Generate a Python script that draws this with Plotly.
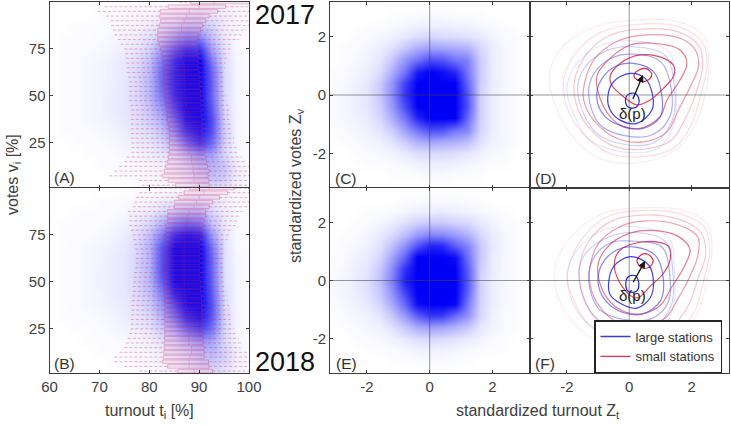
import plotly.graph_objects as go

W, H = 731, 425

turnout_grid = [60, 62.5, 65, 67.5, 70, 72.5, 75, 77.5, 80, 82.5, 85, 87.5, 90, 92.5, 95, 97.5, 100]
votes_grid = [100, 93.75, 87.5, 81.25, 75, 68.75, 62.5, 56.25, 50, 43.75, 37.5, 31.25, 25, 18.75, 12.5, 6.25, 0]
z_grid = [-3.2, -2.8, -2.4, -2, -1.6, -1.2, -.8, -.4, 0, .4, .8, 1.2, 1.6, 2, 2.4, 2.8, 3.2]
z_rows = [3.2, 2.8, 2.4, 2, 1.6, 1.2, .8, .4, 0, -.4, -.8, -1.2, -1.6, -2, -2.4, -2.8, -3.2]

heat_A = [
 [0,0,0,0,0,0,0,.01,.01,.02,.03,.04,.05,.05,.05,.03,.02],
 [0,0,0,0,.01,.01,.02,.03,.04,.06,.09,.12,.13,.1,.06,.03,.02],
 [0,0,.01,.01,.01,.02,.03,.05,.07,.12,.18,.25,.25,.16,.07,.03,.01],
 [0,.01,.01,.01,.02,.03,.05,.07,.12,.22,.38,.5,.48,.25,.08,.03,.01],
 [0,.01,.01,.02,.03,.04,.07,.1,.18,.4,.65,.82,.8,.38,.11,.03,.01],
 [0,.01,.02,.03,.04,.06,.09,.13,.25,.52,.85,1,1,.52,.13,.04,.01],
 [0,.01,.02,.03,.04,.06,.09,.14,.28,.58,.88,1,1,.6,.14,.04,.01],
 [0,.01,.02,.03,.04,.06,.1,.15,.28,.58,.88,1,1,.62,.14,.04,.01],
 [0,.01,.02,.03,.04,.07,.1,.15,.28,.52,.85,1,1,.6,.14,.04,.01],
 [0,.01,.02,.03,.04,.07,.1,.14,.24,.42,.75,1,1,.65,.15,.04,.01],
 [0,.01,.02,.03,.04,.06,.09,.12,.2,.32,.62,.95,1,.7,.17,.04,.01],
 [0,.01,.01,.02,.03,.04,.07,.1,.14,.24,.48,.82,.95,.68,.18,.04,.01],
 [0,0,.01,.01,.02,.03,.05,.07,.1,.16,.3,.6,.8,.58,.17,.04,.01],
 [0,0,0,.01,.01,.02,.03,.04,.06,.09,.15,.28,.42,.36,.15,.04,.01],
 [0,0,0,0,.01,.01,.02,.03,.04,.06,.1,.17,.27,.3,.22,.07,.01],
 [0,0,0,0,0,.01,.01,.02,.03,.04,.06,.12,.2,.24,.19,.07,.02],
 [0,0,0,0,0,0,0,.01,.01,.02,.03,.06,.09,.11,.09,.04,.02],
]
heat_B = [
 [0,0,0,0,0,0,0,.01,.01,.02,.03,.04,.05,.05,.04,.03,.02],
 [0,0,0,0,.01,.01,.02,.03,.04,.06,.09,.12,.14,.11,.06,.03,.02],
 [0,0,.01,.01,.01,.02,.03,.05,.08,.14,.22,.28,.28,.16,.07,.03,.01],
 [0,.01,.01,.01,.02,.03,.05,.09,.15,.3,.5,.6,.55,.25,.08,.03,.01],
 [0,.01,.01,.02,.03,.04,.07,.13,.25,.5,.85,.95,.9,.4,.1,.03,.01],
 [0,.01,.02,.03,.04,.06,.09,.15,.3,.65,1,1,1,.55,.12,.03,.01],
 [0,.01,.02,.03,.04,.07,.1,.16,.3,.68,1,1,1,.6,.12,.04,.01],
 [0,.01,.02,.03,.05,.07,.1,.16,.3,.68,1,1,1,.6,.13,.04,.01],
 [0,.01,.02,.03,.05,.07,.1,.16,.29,.62,1,1,1,.62,.13,.04,.01],
 [0,.01,.02,.03,.04,.07,.09,.14,.25,.5,.88,1,1,.65,.14,.04,.01],
 [0,.01,.02,.03,.04,.06,.08,.12,.2,.4,.72,.98,1,.68,.15,.04,.01],
 [0,.01,.01,.02,.03,.04,.07,.1,.15,.3,.56,.85,.95,.65,.16,.04,.01],
 [0,0,.01,.01,.02,.03,.05,.07,.1,.2,.36,.6,.75,.55,.16,.04,.01],
 [0,0,0,.01,.01,.02,.03,.04,.06,.11,.18,.3,.42,.36,.15,.04,.01],
 [0,0,0,0,.01,.01,.02,.03,.04,.07,.12,.18,.26,.28,.18,.06,.01],
 [0,0,0,0,0,.01,.01,.02,.03,.05,.07,.12,.19,.21,.15,.06,.02],
 [0,0,0,0,0,0,0,.01,.01,.02,.03,.06,.09,.09,.07,.03,.02],
]
heat_C = [
 [0,0,0,0,0,0,0,0,0,0,0,0,0,0,0,0,0],
 [0,0,0,0,0,.01,.01,.01,.02,.02,.01,.01,.01,0,0,0,0],
 [0,0,0,.01,.01,.02,.04,.05,.06,.06,.05,.05,.03,.02,.01,0,0],
 [0,0,.01,.02,.04,.06,.1,.14,.17,.15,.14,.12,.09,.05,.02,.01,0],
 [0,.01,.02,.04,.07,.12,.22,.32,.38,.36,.33,.3,.16,.08,.03,.01,0],
 [0,.01,.03,.05,.1,.22,.42,.55,.7,.68,.55,.5,.2,.08,.03,.01,0],
 [.01,.02,.04,.07,.14,.32,.55,.9,1,.95,.85,.55,.2,.08,.03,.01,0],
 [.01,.03,.05,.09,.2,.42,.75,1,1,1,1,.62,.2,.08,.03,.01,0],
 [.01,.03,.06,.1,.22,.45,.8,1,1,1,1,.68,.18,.07,.03,.01,0],
 [.02,.03,.06,.1,.2,.4,.7,1,1,1,1,.7,.18,.07,.03,.01,0],
 [.01,.03,.05,.08,.16,.32,.55,.85,1,1,1,.6,.18,.07,.03,.01,0],
 [0,.02,.04,.06,.11,.2,.38,.55,.7,.68,.55,.48,.17,.07,.03,.01,0],
 [0,.01,.02,.04,.06,.11,.2,.3,.35,.33,.3,.26,.12,.06,.03,.01,0],
 [0,0,.01,.02,.03,.05,.09,.13,.15,.15,.13,.1,.06,.03,.02,0,0],
 [0,0,0,.01,.01,.02,.03,.05,.06,.06,.05,.04,.02,.01,.01,0,0],
 [0,0,0,0,0,.01,.01,.01,.02,.02,.01,.01,.01,0,0,0,0],
 [0,0,0,0,0,0,0,0,0,0,0,0,0,0,0,0,0],
]
heat_E = [
 [0,0,0,0,0,0,0,0,0,0,0,0,0,0,0,0,0],
 [0,0,0,0,0,0,.01,.01,.02,.02,.02,.01,.01,0,0,0,0],
 [0,0,0,.01,.01,.02,.04,.06,.07,.08,.06,.05,.03,.02,.01,0,0],
 [0,0,.01,.02,.04,.07,.12,.17,.2,.2,.17,.14,.09,.05,.02,.01,0],
 [0,.01,.02,.04,.08,.14,.25,.38,.46,.45,.38,.3,.16,.08,.03,.01,0],
 [0,.02,.03,.06,.12,.25,.45,.68,.88,.85,.65,.5,.22,.09,.03,.01,0],
 [.01,.02,.05,.08,.16,.36,.62,1,1,1,.95,.58,.22,.08,.03,.01,0],
 [.01,.03,.06,.1,.22,.46,.82,1,1,1,1,.65,.2,.08,.03,.01,0],
 [.02,.04,.07,.12,.25,.5,.88,1,1,1,1,.68,.18,.07,.03,.01,0],
 [.02,.04,.07,.12,.22,.44,.75,1,1,1,1,.64,.18,.07,.03,.01,0],
 [.01,.03,.05,.09,.17,.34,.6,.95,1,1,.98,.55,.17,.07,.03,.01,0],
 [0,.02,.04,.06,.11,.22,.42,.65,.8,.78,.6,.45,.16,.06,.02,.01,0],
 [0,.01,.02,.04,.06,.12,.22,.33,.38,.36,.3,.22,.1,.05,.02,.01,0],
 [0,0,.01,.02,.03,.05,.09,.13,.15,.14,.11,.08,.05,.02,.01,0,0],
 [0,0,0,.01,.01,.02,.03,.05,.06,.05,.04,.03,.02,.01,.01,0,0],
 [0,0,0,0,0,.01,.01,.01,.02,.02,.01,.01,0,0,0,0,0],
 [0,0,0,0,0,0,0,0,0,0,0,0,0,0,0,0,0],
]

box_votes = [100, 97.5, 95, 92.5, 90, 87.5, 85, 82.5, 80, 77.5, 75, 72.5, 70, 67.5, 65, 62.5, 60, 57.5, 55, 52.5,
             50, 47.5, 45, 42.5, 40, 37.5, 35, 32.5, 30, 27.5, 25, 22.5, 20, 17.5, 15, 12.5, 10, 7.5, 5, 2.5]
A_low = [86,71,69.7,71.3,72.3,72.3,72.7,73,73.7,74.3,75,75.2,75.3,75.4,75.5,75.6,75.8,76,76,76,
         76,76,76.2,76.4,76.4,76.3,76.3,76.3,76.3,76.3,76.4,76.4,76.4,75.5,75,74,73,72,78,78.5]
A_q1 = [88.3,83.8,82.2,82.1,82.3,82,81.7,81.7,81.7,82,82.3,82.5,82.7,82.8,83,83,83,83,83,83,
        83.2,83.2,83.4,83.5,83.6,83.6,83.8,84,84,84,84,84,84,83.8,83.7,83.3,83,82.7,83.8,85.3]
A_med = [93,90,88,87.5,87,86.5,86.5,86,86,86,86.3,86.5,86.5,86.8,87,87,87,87.2,87.2,87.2,
         87.2,87.5,87.5,87.8,87.8,88,88,88,88,88,88,88,88,88.5,88.5,88.8,88.8,89,89,90]
A_q3 = [100,95.3,93.7,92,91.3,90.7,90.3,89.9,89.7,89.7,89.7,89.8,90,90,90,90.1,90.2,90.2,90.2,90.3,
        90.3,90.4,90.4,90.5,90.5,90.6,90.7,90.7,90.8,90.8,90.8,91,91,91.3,91.5,91.7,92,91.8,92,92]
A_high = [100,100,100,100,100,100,99.5,98.5,98,96.7,96.3,96,95.5,95.3,95.2,95,95,95,95.2,95.2,
          95.5,95.5,95.8,96,96,96,96.3,96.5,96.8,97,97,97.5,98,98.5,99.5,100,100,100,100,100]
B_low = [80,78,77.3,77,76.7,75.7,76,76,76,76.3,76.7,76.8,77,77.2,77.3,77.3,77.3,77.2,77,76.9,
         76.8,76.7,76.7,76.6,76.5,76.4,76.4,76.4,76.3,76.3,76.2,76,75.7,75.3,75,74,73,73,75,78]
B_q1 = [88,87,85.9,85,85,83.7,83.7,83.7,83.3,83.3,83.3,83.2,83.2,83.2,83.1,83.1,83.1,83.1,83.1,83.1,
        83.1,83.1,83.1,83.1,83.1,83.1,83.1,83.1,83.1,83.1,83.1,83.1,83.1,83,83,82.9,82.8,82.7,83.7,85.7]
B_med = [92,91,90,89.5,89,88,87.8,87.5,87.3,87,87,87,87,87,87,87,87,87,87,87,
         87,87,87.2,87.2,87.3,87.5,87.7,87.8,88,88,88,88,88,88,88.5,88.5,88.2,88,88,89]
B_q3 = [97,95.7,94.1,92.7,92,91.3,91.3,91,90.8,90.7,90.3,90.3,90.2,90.2,90.2,90.2,90.2,90.2,90.2,90.2,
        90.3,90.4,90.4,90.5,90.5,90.6,90.7,90.7,90.8,90.8,90.8,90.8,90.8,90.8,91,91,91,91.9,92,92.7]
B_high = [100,100,100,100,100,98.7,98.3,97.7,97.3,96.7,96,95.7,95.3,95.2,95,94.8,94.7,94.8,95,95,
          95.2,95.3,95.5,95.7,95.7,96,96,96.3,96.3,96.7,97,97.3,98,98.3,98.3,100,100,100,100,100]

red_D = [
 [(.15,.65),(.3,.85),(.55,.9),(.72,.72),(.62,.52),(.35,.47)],
 [(-.61,.65),(-.29,1.08),(.35,1.37),(1.1,1.26),(1.44,.97),(1.42,.63),(1.1,.23),(.67,-.17),(.25,-.34),(-.18,-.06),(-.56,.34)],
 [(-1.04,.63),(-.72,1.14),(.03,1.71),(.78,1.77),(1.63,1.54),(1.85,1.08),(1.63,.51),(1.21,-.17),(.99,-.74),(.35,-1.14),(-.29,-1.03),(-.82,-.4)],
 [(-1.41,.51),(-1.09,1.26),(-.4,1.83),(.46,2.05),(1.63,1.94),(2.12,1.54),(2.22,.97),(1.96,.29),(1.58,-.51),(1.21,-1.26),(.46,-1.6),(-.4,-1.48),(-1.14,-.86),(-1.46,-.17)],
 [(-1.75,.5),(-1.4,1.35),(-.7,2.0),(.3,2.25),(1.6,2.15),(2.25,1.65),(2.35,.95),(2.15,.1),(1.8,-.8),(1.35,-1.55),(.5,-1.85),(-.5,-1.75),(-1.3,-1.1),(-1.7,-.3)],
 [(-2.1,.55),(-1.7,1.45),(-.9,2.15),(.3,2.42),(1.6,2.33),(2.35,1.8),(2.5,1.0),(2.3,.05),(2.0,-1.0),(1.45,-1.8),(.5,-2.1),(-.6,-2.0),(-1.5,-1.3),(-2.0,-.4)],
 [(-2.55,.75),(-2.1,1.7),(-1.05,2.35),(.3,2.57),(1.6,2.5),(2.4,2.0),(2.55,1.05),(2.45,.1),(2.1,-1.05),(1.4,-1.95),(.1,-2.33),(-1.0,-2.15),(-1.9,-1.3),(-2.45,-.1)],
]
blue_D = [
 [(-.12,-.19),(-.02,.03),(.2,.05),(.32,-.19),(.22,-.42),(-.02,-.42)],
 [(-.69,-.11),(-.5,.46),(.03,.74),(.51,.57),(.76,-.06),(.73,-.51),(.25,-.97),(-.29,-.86),(-.61,-.51)],
 [(-1.04,-.1),(-.88,.55),(-.4,1.0),(.15,1.08),(.78,.8),(1.05,-.05),(1.0,-.74),(.45,-1.14),(-.18,-1.08),(-.77,-.74)],
 [(-1.3,0),(-1.15,.7),(-.6,1.25),(.1,1.4),(1.0,1.15),(1.35,.2),(1.3,-.75),(.75,-1.35),(-.1,-1.4),(-.95,-1.0)],
 [(-1.65,.1),(-1.45,.9),(-.75,1.5),(.1,1.65),(1.15,1.35),(1.45,.3),(1.4,-.8),(.85,-1.6),(-.1,-1.7),(-1.1,-1.25)],
 [(-2.0,.2),(-1.7,1.05),(-.9,1.7),(.1,1.85),(1.25,1.5),(1.5,.35),(1.45,-.95),(.95,-1.8),(-.15,-1.95),(-1.3,-1.5),(-1.8,-.6)],
]
red_F = [
 [(.25,.67),(.38,.88),(.6,.9),(.77,.68),(.65,.46),(.4,.44)],
 [(-.48,.54),(-.29,1.05),(.57,1.34),(1.26,1.17),(1.31,.71),(1.1,.25),(.67,-.2),(.25,-.6),(-.23,-.2)],
 [(-1.0,.55),(-.7,1.15),(.0,1.62),(.75,1.72),(1.6,1.5),(1.95,1.05),(1.75,.45),(1.35,-.25),(1.0,-.85),(.35,-1.15),(-.3,-1.0),(-.85,-.35)],
 [(-1.25,.5),(-1.0,1.25),(-.3,1.85),(.55,2.05),(1.6,1.9),(2.2,1.5),(2.2,.85),(1.95,.15),(1.55,-.65),(1.15,-1.3),(.45,-1.55),(-.35,-1.45),(-.95,-.9),(-1.25,-.15)],
 [(-1.6,.45),(-1.3,1.35),(-.55,2.05),(.4,2.25),(1.6,2.1),(2.3,1.65),(2.45,.9),(2.2,.05),(1.9,-.85),(1.35,-1.6),(.5,-1.85),(-.45,-1.75),(-1.2,-1.15),(-1.55,-.3)],
 [(-1.95,.4),(-1.5,1.45),(-.7,2.2),(.4,2.4),(1.6,2.3),(2.4,1.85),(2.58,1.0),(2.4,.05),(2.1,-1.05),(1.5,-1.8),(.5,-2.1),(-.6,-2.0),(-1.45,-1.35),(-1.9,-.5)],
 [(-2.37,.5),(-1.9,1.45),(-.85,2.3),(.45,2.5),(1.7,2.42),(2.5,1.95),(2.65,1.05),(2.5,.05),(2.2,-1.1),(1.55,-2.0),(.4,-2.35),(-.8,-2.2),(-1.75,-1.5),(-2.3,-.5)],
]
blue_F = [
 [(-.11,-.11),(-.02,.14),(.2,.16),(.31,-.11),(.22,-.38),(-.02,-.38)],
 [(-.66,-.09),(-.5,.48),(.03,.82),(.62,.54),(.78,-.09),(.67,-.6),(.25,-.95),(-.29,-.78),(-.61,-.49)],
 [(-1.0,-.05),(-.85,.6),(-.4,1.05),(.2,1.15),(.85,.85),(1.1,.0),(1.0,-.7),(.45,-1.15),(-.2,-1.1),(-.75,-.7)],
 [(-1.3,0),(-1.15,.75),(-.6,1.3),(.15,1.35),(1.05,1.15),(1.3,.2),(1.25,-.75),(.75,-1.3),(-.1,-1.35),(-.95,-1.0)],
 [(-1.6,.05),(-1.45,.85),(-.75,1.45),(.1,1.65),(1.15,1.35),(1.4,.3),(1.35,-.85),(.85,-1.55),(-.1,-1.65),(-1.1,-1.25)],
 [(-2.0,.15),(-1.7,1.0),(-.9,1.7),(.1,1.85),(1.25,1.5),(1.45,.35),(1.4,-.95),(.95,-1.8),(-.15,-1.95),(-1.3,-1.5),(-1.8,-.6)],
]
delta_D = [(.1, -.19), (.44, .68)]
delta_F = [(.1, -.11), (.51, .67)]

votes_ticks = [25, 50, 75]
turnout_ticks = [60, 70, 80, 90, 100]
z_ticks = [-2, 0, 2]
z_labels = ["-2", "0", "2"]

FONT = "Liberation Sans"
GREY = "#404040"
FRAME = "#3a3a3a"
REDS = ["rgba(225,30,60,.95)", "rgba(225,40,65,.85)", "rgba(225,50,75,.65)", "rgba(230,60,85,.5)",
        "rgba(235,80,100,.32)", "rgba(240,100,120,.22)", "rgba(240,120,135,.14)"]
BLUES = ["rgba(20,20,225,.95)", "rgba(30,30,225,.85)", "rgba(50,50,230,.6)", "rgba(70,70,235,.45)",
         "rgba(90,90,235,.3)", "rgba(120,120,240,.18)"]

panels = {  # left, top, right, bottom in page pixels
    "A": (49.5, 2, 249, 188), "B": (49.5, 188, 249, 373),
    "C": (330, 2, 530, 188), "E": (330, 188, 530, 373),
    "D": (530, 2, 729, 188), "F": (530, 188, 729, 373),
}
axis_no = {"A": "", "C": "2", "D": "3", "B": "4", "E": "5", "F": "6"}

fig = go.Figure()
layout = {}
for name, (l, t, r, b) in panels.items():
    n = axis_no[name]
    left_panel = name in "AB"
    bottom = name in "BEF"
    showy = name in "ABCE"
    xa = dict(domain=[l / W, r / W], range=[60, 100] if left_panel else [-3.18, 3.2],
              tickmode="array", tickvals=turnout_ticks if left_panel else z_ticks,
              ticktext=[str(v) for v in turnout_ticks] if left_panel else z_labels,
              showticklabels=bottom, ticks="inside", ticklen=3, tickwidth=1, tickcolor=FRAME,
              showline=True, mirror="ticks", linecolor=FRAME, linewidth=1, showgrid=False, zeroline=False,
              tickfont=dict(family=FONT, size=15, color=GREY), anchor="y" + n, automargin=False)
    ya = dict(domain=[1 - b / H, 1 - t / H],
              range=([1, 100] if name == "A" else [1.5, 100]) if left_panel else [-3.18, 3.18],
              tickmode="array", tickvals=votes_ticks if left_panel else z_ticks,
              ticktext=[str(v) for v in votes_ticks] if left_panel else z_labels,
              showticklabels=showy, ticks="inside", ticklen=3, tickwidth=1, tickcolor=FRAME,
              showline=True, mirror="ticks", linecolor=FRAME, linewidth=1, showgrid=False, zeroline=False,
              tickfont=dict(family=FONT, size=15, color=GREY), anchor="x" + n, automargin=False)
    layout["xaxis" + n] = xa
    layout["yaxis" + n] = ya

scale = [[0, "#ffffff"], [1, "#0000f5"]]


def heat(x, y, z, n):
    fig.add_trace(go.Heatmap(x=x, y=y, z=z, zmin=0, zmax=1, colorscale=scale, showscale=False, zsmooth="best",
                             xaxis="x" + n, yaxis="y" + n))


heat(turnout_grid, votes_grid, heat_A, "")
heat(turnout_grid, votes_grid, heat_B, "4")
heat(z_grid, z_rows, heat_C, "2")
heat(z_grid, z_rows, heat_E, "5")


def boxes(low, q1, med, q3, high, n):
    half = 0.95
    wx, wy, bx, by, mx, my = [], [], [], [], [], []
    for v, a, b, c, d, e in zip(box_votes, low, q1, med, q3, high):
        wx += [a, b, None, d, e, None]
        wy += [v, v, None, v, v, None]
        bx += [b, d, d, b, b, None]
        by += [v - half, v - half, v + half, v + half, v - half, None]
        mx += [c, c, None]
        my += [v - half, v + half, None]
    fig.add_trace(go.Scatter(x=wx, y=wy, mode="lines", showlegend=False, hoverinfo="skip", xaxis="x" + n, yaxis="y" + n,
                             line=dict(color="rgba(220,45,80,.55)", width=0.7, dash="3px,2px")))
    fig.add_trace(go.Scatter(x=bx, y=by, mode="lines", fill="toself", fillcolor="rgba(255,120,150,.1)", showlegend=False,
                             hoverinfo="skip", xaxis="x" + n, yaxis="y" + n,
                             line=dict(color="rgba(210,45,90,.5)", width=0.6)))
    fig.add_trace(go.Scatter(x=mx, y=my, mode="lines", showlegend=False, hoverinfo="skip", xaxis="x" + n, yaxis="y" + n,
                             line=dict(color="rgba(210,45,90,.4)", width=0.6)))


boxes(A_low, A_q1, A_med, A_q3, A_high, "")
boxes(B_low, B_q1, B_med, B_q3, B_high, "4")


def contours(sets, colors, n):
    for i in range(len(sets) - 1, -1, -1):
        pts = sets[i] + [sets[i][0]]
        fig.add_trace(go.Scatter(x=[p[0] for p in pts], y=[p[1] for p in pts], mode="lines",
                                 line=dict(color=colors[i], width=1.2, shape="spline", smoothing=1.0),
                                 showlegend=False, hoverinfo="skip", xaxis="x" + n, yaxis="y" + n))


contours(red_D, REDS, "3")
contours(blue_D, BLUES, "3")
contours(red_F, REDS, "6")
contours(blue_F, BLUES, "6")

# legend entries
for label, col in (("large stations", "#3c3cd8"), ("small stations", "#e0304a")):
    fig.add_trace(go.Scatter(x=[None], y=[None], mode="lines", name=label, line=dict(color=col, width=1.4),
                             xaxis="x6", yaxis="y6"))

shapes = []
for n in ("2", "3", "5", "6"):
    shapes.append(dict(type="line", xref="x" + n, yref="y" + n + " domain", x0=0, x1=0, y0=0, y1=1,
                       line=dict(color="rgba(70,70,70,.7)", width=0.8), layer="above"))
    shapes.append(dict(type="line", xref="x" + n + " domain", yref="y" + n, x0=0, x1=1, y0=0, y1=0,
                       line=dict(color="rgba(70,70,70,.7)", width=0.8), layer="above"))


def text(x, y, s, size=15, color=GREY, angle=0):
    return dict(x=x / W, y=1 - y / H, xref="paper", yref="paper", text=s, showarrow=False, textangle=angle,
                font=dict(family=FONT, size=size, color=color), xanchor="center", yanchor="middle")


ann = [
    text(285, 15, "2017", 27, "#111111"), text(285, 362, "2018", 27, "#111111"),
    text(64, 177, "(A)", 15.5, "#333333"), text(64, 363, "(B)", 15.5, "#333333"),
    text(346, 178, "(C)", 15.5, "#333333"), text(346, 363, "(E)", 15.5, "#333333"),
    text(546, 178, "(D)", 15.5, "#333333"), text(545, 363, "(F)", 15.5, "#333333"),
    text(13, 175, "votes v<sub>i</sub> [%]", 16, GREY, -90),
    text(296, 186, "standardized votes Z<sub>v</sub>", 16, GREY, -90),
    text(149, 411, "turnout t<sub>i</sub> [%]", 16),
    text(538, 411, "standardized turnout Z<sub>t</sub>", 16),
]
for n, pts, yoff in (("3", delta_D, -.45), ("6", delta_F, -.41)):
    ann.append(dict(x=pts[1][0], y=pts[1][1], ax=pts[0][0], ay=pts[0][1], xref="x" + n, yref="y" + n,
                    axref="x" + n, ayref="y" + n, text="", showarrow=True, arrowhead=2, arrowsize=1.1,
                    arrowwidth=1.3, arrowcolor="#111111"))
    ann.append(dict(x=pts[0][0], y=pts[0][1] + yoff, xref="x" + n, yref="y" + n, text="δ(p)", showarrow=False,
                    font=dict(family=FONT, size=15, color="#222222")))

fig.update_layout(
    width=W, height=H, margin=dict(l=0, r=0, t=0, b=0, autoexpand=False), paper_bgcolor="white", plot_bgcolor="white",
    shapes=shapes, annotations=ann, hovermode=False,
    legend=dict(x=722 / W, y=1 - 346.5 / H, xanchor="right", yanchor="middle", bgcolor="white", bordercolor="#222222",
                borderwidth=1.5, itemwidth=30, entrywidth=78, entrywidthmode="pixels", tracegroupgap=0,
                font=dict(family=FONT, size=13, color="#333333")),
    **layout,
)
fig.write_html("out.html", config={"displayModeBar": False, "responsive": False},
               post_script="document.body.style.margin='0';document.documentElement.style.overflow='hidden';")
